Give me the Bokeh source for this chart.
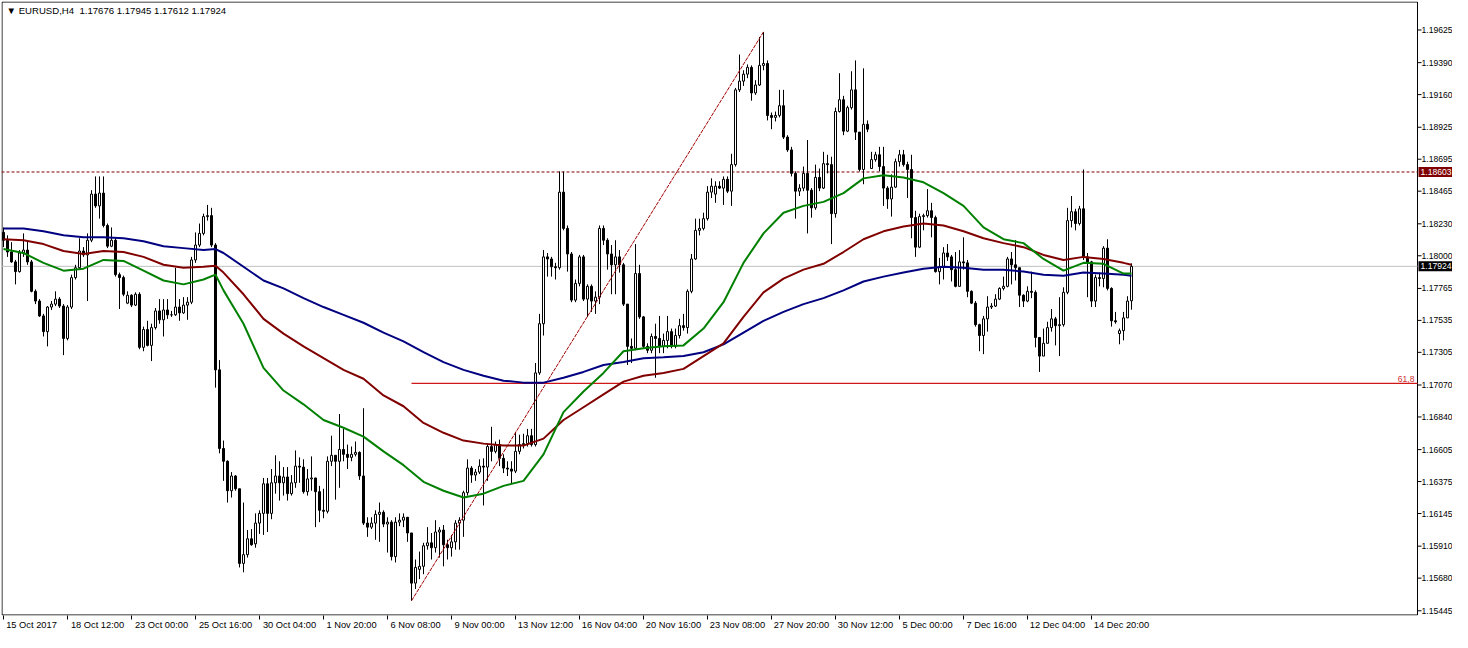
from bokeh.plotting import figure
from bokeh.models import Range1d, FixedTicker, Label, ColumnDataSource
from bokeh.embed import file_html
from bokeh.resources import INLINE
from bokeh.core.properties import value

symbol = "EURUSD,H4"

opens = [1.18168,1.18112,1.18027,1.17956,1.17886,1.18020,1.18041,1.17956,1.17744,1.17674,
1.17567,1.17454,1.17631,1.17652,1.17688,1.17638,1.17405,1.17631,1.17843,1.17914,
1.18034,1.18006,1.18112,1.18444,1.18359,1.18451,1.18218,1.18069,1.18112,1.17864,
1.17843,1.17659,1.17716,1.17645,1.17723,1.17341,1.17469,1.17355,1.17483,1.17603,
1.17539,1.17610,1.17575,1.17575,1.17631,1.17589,1.17645,1.17666,1.17970,1.18077,
1.18161,1.18282,1.18289,1.18077,1.17179,1.16613,1.16521,1.16309,1.16415,1.16323,
1.15786,1.15849,1.15963,1.15927,1.16076,1.16146,1.16359,1.16146,1.16366,1.16415,
1.16366,1.16408,1.16288,1.16366,1.16486,1.16479,1.16302,1.16394,1.16401,1.16302,
1.16168,1.16161,1.16521,1.16564,1.16521,1.16606,1.16571,1.16549,1.16571,1.16585,
1.16415,1.16076,1.16047,1.16076,1.16139,1.16154,1.16069,1.16083,1.15835,1.16083,
1.16097,1.16118,1.16005,1.15644,1.15743,1.15765,1.15913,1.15934,1.15899,1.16012,
1.16026,1.15920,1.15899,1.15941,1.16076,1.16097,1.16295,1.16472,1.16422,1.16443,
1.16486,1.16479,1.16627,1.16592,1.16641,1.16542,1.16472,1.16465,1.16450,1.16592,
1.16641,1.16648,1.16705,1.16641,1.17157,1.17511,1.17992,1.17977,1.17921,1.17914,
1.18458,1.18197,1.18013,1.17681,1.17801,1.17992,1.17688,1.17780,1.17674,1.17702,
1.18197,1.18112,1.18013,1.17935,1.17992,1.17935,1.17652,1.17348,1.17334,1.17872,
1.17560,1.17348,1.17320,1.17419,1.17405,1.17348,1.17391,1.17454,1.17348,1.17426,
1.17497,1.17483,1.17744,1.17977,1.18183,1.18197,1.18267,1.18458,1.18444,1.18501,
1.18487,1.18550,1.18465,1.18656,1.19194,1.19257,1.19307,1.19356,1.19172,1.19229,
1.19370,1.19384,1.19010,1.18996,1.19010,1.19080,1.18854,1.18762,1.18593,1.18465,
1.18487,1.18593,1.18472,1.18345,1.18564,1.18487,1.18663,1.18656,1.18303,1.19038,
1.19123,1.18897,1.19066,1.19194,1.18890,1.18621,1.18946,1.18628,1.18692,1.18727,
1.18642,1.18487,1.18409,1.18494,1.18677,1.18727,1.18656,1.18621,1.18275,1.18062,
1.18282,1.18289,1.18324,1.18275,1.17886,1.17921,1.18020,1.17992,1.17900,1.17780,
1.17956,1.17949,1.17744,1.17659,1.17504,1.17426,1.17546,1.17631,1.17638,1.17688,
1.17765,1.17780,1.17977,1.17935,1.17914,1.17716,1.17674,1.17744,1.17737,1.17412,
1.17278,1.17370,1.17483,1.17546,1.17497,1.17504,1.17737,1.18253,1.18317,1.18232,
1.18338,1.17992,1.17956,1.17674,1.17843,1.17836,1.18055,1.17765,1.17532,1.17440,
1.17461,1.17553,1.17676]

highs = [1.18204,1.18147,1.18098,1.17970,1.18041,1.18161,1.18112,1.17970,1.17758,1.17688,
1.17582,1.17638,1.17674,1.17744,1.17702,1.17652,1.17645,1.17864,1.17935,1.18126,
1.18062,1.18161,1.18472,1.18571,1.18571,1.18571,1.18232,1.18204,1.18126,1.17879,
1.17857,1.17744,1.17723,1.17737,1.17737,1.17490,1.17532,1.17511,1.17624,1.17688,
1.17688,1.17688,1.17603,1.17914,1.17688,1.17702,1.17702,1.17992,1.18168,1.18232,
1.18303,1.18366,1.18345,1.18091,1.17249,1.16670,1.16528,1.16443,1.16422,1.16323,
1.16224,1.16026,1.16033,1.16146,1.16168,1.16401,1.16401,1.16465,1.16564,1.16521,
1.16479,1.16479,1.16422,1.16599,1.16549,1.16535,1.16465,1.16556,1.16401,1.16344,
1.16323,1.16556,1.16705,1.16564,1.16861,1.16754,1.16641,1.16627,1.16663,1.16592,
1.16903,1.16118,1.16118,1.16168,1.16224,1.16168,1.16118,1.16097,1.16118,1.16146,
1.16146,1.16118,1.16005,1.15814,1.15871,1.15934,1.16047,1.16005,1.16097,1.16047,
1.16062,1.15956,1.15991,1.16097,1.16118,1.16309,1.16535,1.16486,1.16465,1.16535,
1.16542,1.16648,1.16769,1.16663,1.16677,1.16571,1.16521,1.16521,1.16733,1.16712,
1.16719,1.16754,1.16754,1.17228,1.17582,1.18041,1.18020,1.17992,1.17949,1.18607,
1.18607,1.18218,1.18027,1.17829,1.18006,1.18006,1.17794,1.17794,1.17744,1.18218,
1.18218,1.18126,1.18077,1.18112,1.18041,1.17949,1.17652,1.17405,1.18084,1.17935,
1.17567,1.17370,1.17440,1.17511,1.17567,1.17440,1.17567,1.17476,1.17476,1.17546,
1.17582,1.17758,1.18013,1.18267,1.18267,1.18310,1.18501,1.18557,1.18536,1.18536,
1.18571,1.18571,1.18734,1.19208,1.19448,1.19335,1.19377,1.19370,1.19264,1.19575,
1.19611,1.19406,1.19031,1.19038,1.19194,1.19194,1.18868,1.18784,1.18607,1.18515,
1.18642,1.18833,1.18487,1.18656,1.18628,1.18748,1.18727,1.18713,1.19066,1.19314,
1.19151,1.19080,1.19328,1.19406,1.18890,1.19349,1.18974,1.18748,1.18748,1.18784,
1.18784,1.18501,1.18586,1.18699,1.18762,1.18762,1.18677,1.18727,1.18324,1.18303,
1.18303,1.18480,1.18381,1.18289,1.17985,1.18062,1.18084,1.18006,1.18027,1.18041,
1.18133,1.17970,1.17751,1.17674,1.17511,1.17567,1.17709,1.17659,1.17723,1.17773,
1.17850,1.17992,1.18027,1.18112,1.17914,1.17723,1.17780,1.17886,1.17751,1.17412,
1.17476,1.17525,1.17617,1.17560,1.17702,1.17773,1.18345,1.18430,1.18338,1.18359,
1.18621,1.18020,1.17963,1.17864,1.17879,1.18069,1.18119,1.17773,1.17596,1.17476,
1.17596,1.17709,1.17945]

lows = [1.18062,1.17992,1.17949,1.17794,1.17879,1.17992,1.17935,1.17737,1.17652,1.17560,
1.17419,1.17348,1.17610,1.17638,1.17624,1.17285,1.17391,1.17617,1.17829,1.17900,
1.17992,1.17674,1.18098,1.18345,1.18267,1.18204,1.18055,1.18062,1.17850,1.17617,
1.17709,1.17652,1.17631,1.17638,1.17327,1.17313,1.17348,1.17242,1.17469,1.17511,
1.17419,1.17546,1.17560,1.17567,1.17532,1.17582,1.17539,1.17652,1.17949,1.18062,
1.18147,1.18253,1.18062,1.17051,1.16578,1.16380,1.16224,1.16260,1.16309,1.15757,
1.15722,1.15828,1.15913,1.15899,1.15998,1.15991,1.16012,1.16104,1.16288,1.16238,
1.16274,1.16238,1.16274,1.16330,1.16366,1.16288,1.16274,1.16309,1.16047,1.16083,
1.16111,1.16146,1.16486,1.16245,1.16330,1.16521,1.16465,1.16521,1.16556,1.16387,
1.16062,1.15977,1.16033,1.15956,1.15941,1.16047,1.15864,1.15807,1.15793,1.16054,
1.16047,1.15941,1.15517,1.15602,1.15673,1.15708,1.15885,1.15814,1.15864,1.15828,
1.15765,1.15814,1.15835,1.15885,1.15885,1.15977,1.16274,1.16366,1.16380,1.16429,
1.16203,1.16380,1.16521,1.16578,1.16486,1.16436,1.16415,1.16359,1.16436,1.16571,
1.16613,1.16627,1.16627,1.16627,1.17143,1.17426,1.17850,1.17850,1.17829,1.17900,
1.18183,1.17886,1.17666,1.17666,1.17780,1.17674,1.17560,1.17596,1.17582,1.17652,
1.18077,1.17900,1.17723,1.17723,1.17879,1.17638,1.17214,1.17228,1.17320,1.17546,
1.17334,1.17299,1.17299,1.17122,1.17299,1.17299,1.17334,1.17334,1.17334,1.17405,
1.17461,1.17440,1.17730,1.17970,1.18147,1.18183,1.18253,1.18416,1.18381,1.18480,
1.18366,1.18451,1.18359,1.18642,1.19179,1.19222,1.19278,1.19116,1.19158,1.19222,
1.19335,1.18974,1.18911,1.18967,1.18996,1.18840,1.18748,1.18571,1.18267,1.18430,
1.18465,1.18161,1.18274,1.18331,1.18465,1.18480,1.18593,1.18084,1.18274,1.19031,
1.18868,1.18890,1.19052,1.18833,1.18607,1.18515,1.18890,1.18628,1.18677,1.18607,
1.18359,1.18338,1.18282,1.18487,1.18642,1.18642,1.18416,1.18126,1.17992,1.18055,
1.18183,1.18275,1.18133,1.17879,1.17794,1.17829,1.17963,1.17815,1.17773,1.17780,
1.17900,1.17702,1.17652,1.17490,1.17313,1.17292,1.17454,1.17617,1.17631,1.17681,
1.17751,1.17773,1.17794,1.17822,1.17631,1.17631,1.17666,1.17695,1.17341,1.17164,
1.17278,1.17370,1.17454,1.17355,1.17278,1.17490,1.17723,1.18204,1.18183,1.18218,
1.17970,1.17702,1.17631,1.17631,1.17780,1.17773,1.17751,1.17490,1.17511,1.17363,
1.17391,1.17553,1.17612]

closes = [1.18112,1.18027,1.17956,1.17886,1.18020,1.18041,1.17956,1.17744,1.17674,1.17567,
1.17454,1.17631,1.17652,1.17688,1.17638,1.17405,1.17631,1.17843,1.17914,1.18034,
1.18006,1.18112,1.18444,1.18359,1.18451,1.18218,1.18069,1.18112,1.17864,1.17843,
1.17723,1.17716,1.17645,1.17723,1.17341,1.17469,1.17355,1.17483,1.17603,1.17539,
1.17610,1.17575,1.17575,1.17631,1.17589,1.17645,1.17666,1.17970,1.18077,1.18161,
1.18282,1.18289,1.18077,1.17179,1.16613,1.16521,1.16309,1.16415,1.16323,1.15786,
1.15849,1.15963,1.15920,1.16076,1.16146,1.16359,1.16146,1.16366,1.16415,1.16366,
1.16408,1.16288,1.16366,1.16486,1.16479,1.16302,1.16394,1.16401,1.16302,1.16168,
1.16161,1.16521,1.16564,1.16521,1.16606,1.16571,1.16549,1.16571,1.16585,1.16415,
1.16076,1.16047,1.16076,1.16139,1.16154,1.16069,1.16083,1.15835,1.16083,1.16097,
1.16118,1.16005,1.15644,1.15757,1.15765,1.15913,1.15934,1.15899,1.16012,1.16026,
1.15920,1.15899,1.15941,1.16076,1.16097,1.16295,1.16472,1.16422,1.16443,1.16486,
1.16479,1.16627,1.16592,1.16641,1.16542,1.16472,1.16465,1.16450,1.16592,1.16641,
1.16648,1.16705,1.16641,1.17157,1.17511,1.17992,1.17977,1.17921,1.17914,1.18458,
1.18197,1.18013,1.17681,1.17801,1.17992,1.17688,1.17780,1.17674,1.17702,1.18197,
1.18112,1.18013,1.17935,1.17992,1.17935,1.17652,1.17348,1.17334,1.17872,1.17560,
1.17348,1.17320,1.17419,1.17405,1.17348,1.17391,1.17454,1.17348,1.17426,1.17497,
1.17483,1.17744,1.17977,1.18183,1.18197,1.18267,1.18458,1.18501,1.18501,1.18487,
1.18550,1.18465,1.18656,1.19194,1.19257,1.19307,1.19356,1.19172,1.19229,1.19370,
1.19384,1.19010,1.18996,1.19010,1.19080,1.18854,1.18762,1.18593,1.18465,1.18487,
1.18593,1.18472,1.18345,1.18564,1.18487,1.18663,1.18656,1.18303,1.19038,1.19123,
1.18897,1.19066,1.19194,1.18890,1.18621,1.18946,1.18911,1.18692,1.18727,1.18642,
1.18487,1.18409,1.18494,1.18677,1.18727,1.18656,1.18621,1.18275,1.18062,1.18282,
1.18289,1.18324,1.18275,1.17886,1.17921,1.18020,1.17992,1.17900,1.17780,1.17956,
1.17949,1.17744,1.17659,1.17504,1.17426,1.17546,1.17631,1.17638,1.17688,1.17765,
1.17780,1.17977,1.17935,1.17914,1.17716,1.17674,1.17744,1.17737,1.17412,1.17278,
1.17370,1.17483,1.17546,1.17497,1.17504,1.17737,1.18253,1.18317,1.18232,1.18338,
1.17992,1.17956,1.17674,1.17843,1.17836,1.18055,1.17765,1.17532,1.17525,1.17461,
1.17553,1.17674,1.17924]

# moving averages, read at these bar indices
ma_bars = [0,5,10,15,20,25,30,35,40,45,50,53,55,60,65,70,75,80,85,90,95,100,105,110,115,120,
           125,130,135,140,145,150,155,160,165,170,175,180,185,190,195,200,205,210,215,220,225,
           230,235,240,245,250,255,260,265,270,275,280,282]
ma_fast = [1.18048,1.18020,1.17949,1.17893,1.17907,1.17970,1.17963,1.17893,1.17822,1.17794,
           1.17829,1.17864,1.17751,1.17511,1.17193,1.17030,1.16931,1.16818,1.16762,1.16698,
           1.16592,1.16493,1.16373,1.16309,1.16260,1.16288,1.16344,1.16380,1.16571,1.16875,
           1.17023,1.17157,1.17313,1.17334,1.17348,1.17355,1.17476,1.17666,1.17949,1.18161,
           1.18310,1.18359,1.18388,1.18451,1.18557,1.18579,1.18564,1.18529,1.18451,1.18359,
           1.18204,1.18119,1.18091,1.17977,1.17893,1.17949,1.17942,1.17872,1.17872]
ma_mid = [1.18119,1.18112,1.18084,1.18034,1.18013,1.18034,1.18027,1.17992,1.17935,1.17914,
          1.17921,1.17928,1.17879,1.17723,1.17546,1.17440,1.17348,1.17263,1.17179,1.17115,
          1.16995,1.16917,1.16797,1.16726,1.16670,1.16648,1.16634,1.16634,1.16684,1.16818,
          1.16910,1.17002,1.17094,1.17136,1.17157,1.17186,1.17278,1.17370,1.17560,1.17737,
          1.17836,1.17900,1.17942,1.18027,1.18119,1.18176,1.18211,1.18232,1.18218,1.18176,
          1.18126,1.18091,1.18062,1.18006,1.17970,1.17992,1.17977,1.17949,1.17935]
ma_slow = [1.18197,1.18197,1.18176,1.18147,1.18133,1.18133,1.18126,1.18105,1.18069,1.18055,
           1.18041,1.18048,1.18020,1.17921,1.17822,1.17765,1.17695,1.17631,1.17575,1.17518,
           1.17447,1.17384,1.17306,1.17235,1.17179,1.17136,1.17101,1.17087,1.17087,1.17122,
           1.17164,1.17214,1.17235,1.17263,1.17270,1.17278,1.17306,1.17362,1.17447,1.17532,
           1.17596,1.17652,1.17695,1.17751,1.17815,1.17850,1.17879,1.17907,1.17921,1.17914,
           1.17900,1.17900,1.17886,1.17864,1.17857,1.17879,1.17872,1.17864,1.17857]

price_ticks = [1.19625,1.19390,1.19160,1.18925,1.18695,1.18465,1.18230,1.18000,1.17765,1.17535,
               1.17305,1.17070,1.16840,1.16605,1.16375,1.16145,1.15910,1.15680,1.15445]
time_labels = ["15 Oct 2017","18 Oct 12:00","23 Oct 00:00","25 Oct 16:00","30 Oct 04:00",
               "1 Nov 20:00","6 Nov 08:00","9 Nov 00:00","13 Nov 12:00","16 Nov 04:00",
               "20 Nov 16:00","23 Nov 08:00","27 Nov 20:00","30 Nov 12:00","5 Dec 00:00",
               "7 Dec 16:00","12 Dec 04:00","14 Dec 20:00"]
time_label_bars = [16 * k for k in range(len(time_labels))]

hline_price = 1.18603
bid_price = 1.17924
fib_low_bar, fib_low = 102, 1.15517
fib_high_bar, fib_high = 190, 1.19611
fib_level = 0.618

FONT = "Liberation Sans"
FS = "9.3px"
FS_Y = "8.6px"

# layout: 4 px per bar, price scale drawn inside the plot area at the right
W, H = 1452, 632
PX_PER_BAR = 4.0
x_start = -0.5
x_end = x_start + (W - 1) / PX_PER_BAR
x_axis = 353.5                       # position of the price scale (in bar units)
y_bottom, y_top = 1.15411, 1.19830
eps_y = (y_top - y_bottom) / 611 * 0.5
eps_x = 0.5 / PX_PER_BAR

p = figure(width=W, height=H, output_backend="svg", toolbar_location=None,
           x_range=Range1d(x_start, x_end), y_range=Range1d(y_bottom, y_top),
           y_axis_location=None, min_border_left=1, min_border_top=1,
           min_border_right=0, min_border_bottom=16)
p.xgrid.visible = False
p.ygrid.visible = False
p.background_fill_color = "white"
p.border_fill_color = "white"
p.outline_line_color = None

# time axis (labels to the right of their tick marks)
label_centers = [round((b + (len(t) * 4.75 / 2 + 1.5) / PX_PER_BAR) * 4) / 4
                 for b, t in zip(time_label_bars, time_labels)]
xa = p.xaxis[0]
xa.ticker = FixedTicker(ticks=label_centers, minor_ticks=time_label_bars)
xa.major_label_overrides = {c: t for c, t in zip(label_centers, time_labels)}
xa.major_tick_out = 0
xa.major_tick_in = 0
xa.minor_tick_out = 4
xa.minor_tick_in = 0
xa.minor_tick_line_color = "black"
xa.axis_line_color = None
xa.major_label_standoff = 0
xa.major_label_text_font = FONT
xa.major_label_text_font_size = FS
xa.major_label_text_color = "black"

# chart frame and price scale
p.line([x_start + eps_x, x_start + eps_x, x_axis, x_axis, x_start + eps_x],
       [y_bottom + eps_y, y_top - eps_y, y_top - eps_y, y_bottom + eps_y, y_bottom + eps_y],
       line_color="black", line_width=1)
p.segment(x0=[x_axis] * len(price_ticks), y0=price_ticks,
          x1=[x_axis + 1.0] * len(price_ticks), y1=price_ticks,
          line_color="black", line_width=1)
p.text(x=[x_axis] * len(price_ticks), y=price_ticks, text=[f"{t:.5f}" for t in price_ticks],
       x_offset=4, text_align="left", text_baseline="middle", text_color="black",
       text_font=value(FONT), text_font_size=value(FS_Y))

# horizontal lines
p.segment(x0=[x_start], y0=[bid_price], x1=[x_axis], y1=[bid_price],
          line_color="#C0C0C0", line_width=1)
p.segment(x0=[x_start], y0=[hline_price], x1=[x_axis], y1=[hline_price],
          line_color="#800000", line_width=1, line_dash="3 2")

# candles
bars = list(range(len(closes)))
src = ColumnDataSource(dict(
    x=bars, h=highs, l=lows,
    top=[max(o, c) for o, c in zip(opens, closes)],
    bottom=[min(o, c) for o, c in zip(opens, closes)],
    fill=["white" if c >= o else "black" for o, c in zip(opens, closes)],
))
p.segment(x0="x", y0="h", x1="x", y1="l", source=src, line_color="black", line_width=1)
p.vbar(x="x", width=0.5, top="top", bottom="bottom", source=src,
       fill_color="fill", line_color="black", line_width=1)

# fibonacci retracement
level_price = fib_high - fib_level * (fib_high - fib_low)
p.line([fib_low_bar, fib_high_bar], [fib_low, fib_high], line_color="#A00000",
       line_width=1, line_dash="4 1")
p.segment(x0=[fib_low_bar], y0=[level_price], x1=[x_axis], y1=[level_price],
          line_color="#D01818", line_width=1.2)
p.add_layout(Label(x=x_axis, y=level_price, x_offset=-3, y_offset=1, text="61,8",
                   text_align="right", text_baseline="bottom", text_color="#D03030",
                   text_font=FONT, text_font_size=FS_Y))

# moving averages
p.line(ma_bars, ma_slow, line_color="#000080", line_width=2)
p.line(ma_bars, ma_mid, line_color="#800000", line_width=2)
p.line(ma_bars, ma_fast, line_color="#008000", line_width=2)

# price boxes on the scale
for price, bg in [(hline_price, "#800000"), (bid_price, "black")]:
    p.add_layout(Label(x=x_axis, y=price, x_offset=1, text=f"{price:.5f}",
                       text_align="left", text_baseline="middle", text_color="white",
                       background_fill_color=bg, text_font=FONT, text_font_size=FS_Y,
                       padding=2))

# header
header = "\u25BC " + symbol + " \u00a0" + " ".join(f"{v:.5f}" for v in
                                                   (opens[-1], highs[-1], lows[-1], closes[-1]))
p.add_layout(Label(x=x_start, y=y_top, x_offset=5, y_offset=-3, text=header,
                   text_baseline="top", text_align="left", text_color="black",
                   text_font=FONT, text_font_size="9.6px"))

open("out.html", "w").write(file_html(p, INLINE))
